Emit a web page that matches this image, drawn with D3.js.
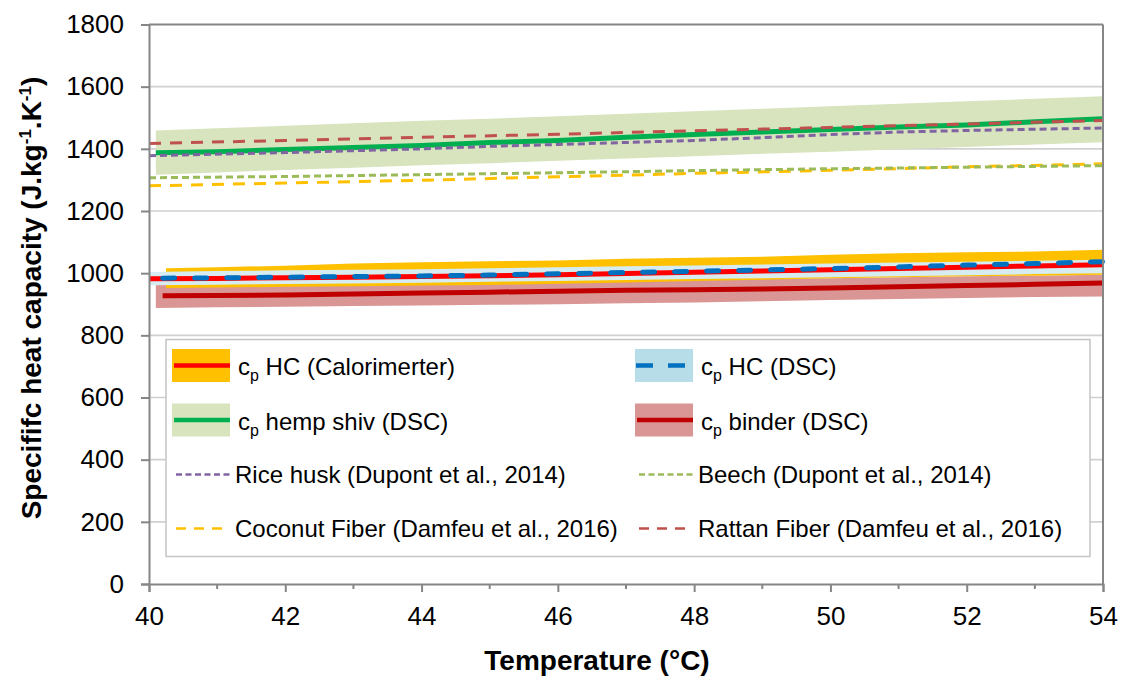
<!DOCTYPE html>
<html><head><meta charset="utf-8">
<script src="https://cdn.jsdelivr.net/npm/d3@7"></script>
<style>body{margin:0;background:#fff}svg{display:block;font-family:"Liberation Sans",Arial,sans-serif}</style>
</head><body><svg id="c" width="1125" height="683"></svg>
<script>
// ---- data ----
const xTicks = [40, 42, 44, 46, 48, 50, 52, 54];
const yTicks = [0, 200, 400, 600, 800, 1000, 1200, 1400, 1600, 1800];

const tempHemp = [40.1, 41, 42, 43, 44, 45, 46, 47, 48, 49, 50, 51, 52, 53, 54];
const hempShiv = [1387, 1391, 1398, 1404, 1411, 1420, 1427, 1437, 1446, 1454, 1462, 1470, 1477, 1487, 1497];
const hempUpper = [1459, 1466, 1474, 1482, 1490, 1497, 1505, 1513, 1521, 1529, 1537, 1545, 1553, 1561, 1569];
const hempLower = [1317, 1324, 1332, 1339, 1347, 1354, 1362, 1369, 1376, 1384, 1391, 1399, 1406, 1414, 1421];

const tempRef = [40, 42, 44, 46, 48, 50, 52, 54];
const rattan = [1417, 1427, 1437, 1447, 1458, 1469, 1480, 1491];
const beech = [1307, 1311, 1317, 1323, 1330, 1336, 1341, 1346];
const coconut = [1281, 1290, 1299, 1310, 1321, 1331, 1342, 1352];
const tempRice = [40, 42, 44, 45, 46, 48, 49, 50, 51, 52, 54];
const riceHusk = [1378, 1388, 1400, 1408, 1414, 1427, 1436, 1446, 1454, 1459, 1467];

const tempHC = [40, 41, 42, 43, 44, 45, 46, 47, 48, 49, 50, 51, 52, 53, 54];
const hcCalo = [982, 983, 985, 987, 989, 992, 995, 999, 1003, 1007, 1011, 1015, 1019, 1023, 1027];
const hcDscUpper = [1004, 1007, 1009, 1011, 1013, 1016, 1019, 1022, 1025, 1028, 1031, 1034, 1037, 1040, 1043];
const hcDscLower = [961, 963, 965, 967, 969, 972, 975, 978, 981, 984, 987, 990, 993, 997, 1000];
const tempDsc = [40.2, 41, 42, 43, 44, 45, 46, 47, 48, 49, 50, 51, 52, 53, 54];
const hcDsc = [984, 985, 987, 989, 991, 994, 998, 1002, 1006, 1010, 1015, 1020, 1026, 1031, 1037];

const tempCalo = [40.25, 41, 42, 43, 44, 45, 46, 47, 48, 49, 50, 51, 52, 53, 54];
const caloUpper = [1016, 1019, 1024, 1031, 1035, 1038, 1041, 1046, 1050, 1053, 1059, 1064, 1067, 1070, 1075];
const caloLower = [952, 954, 956, 958, 960, 962, 966, 970, 975, 979, 984, 987, 990, 992, 995];

const tempBinder = [40.1, 41, 42, 43, 44, 45, 46, 47, 48, 49, 50, 51, 52, 53, 54];
const binderUpper = [963, 965, 967, 969, 971, 973, 975, 977, 979, 982, 984, 987, 990, 992, 995];
const binderLower = [888, 890, 892, 894, 896, 898, 900, 903, 906, 910, 914, 917, 920, 923, 925];
const tempBinderLine = [40.2, 41, 42, 43, 44, 45, 46, 47, 48, 49, 50, 51, 52, 53, 54];
const binder = [927, 928, 930, 933, 936, 939, 942, 945, 947, 949, 952, 956, 960, 964, 968];

// ---- chart ----
const svg = d3.select("#c");
const L = 149, R = 1103, T = 24.5, B = 584;
const x = d3.scaleLinear().domain([40, 54]).range([L, R]);
const y = d3.scaleLinear().domain([0, 1800]).range([B, T]);
const axisCol = "#868686";
const FONT = "Liberation Sans, Arial, sans-serif";

// gridlines
svg.append("g").selectAll("line").data(yTicks.filter(v => v > 0 && v < 1800)).join("line")
  .attr("x1", L).attr("x2", R).attr("y1", d => y(d)).attr("y2", d => y(d))
  .attr("stroke", "#d0d0d0").attr("stroke-width", 1.6);

const zip = (t, v) => t.map((tt, i) => [tt, v[i]]);
const band = (t, lo, hi) => t.map((tt, i) => [tt, lo[i], hi[i]]);
const area = d3.area().x(d => x(d[0])).y0(d => y(d[1])).y1(d => y(d[2]));
const line = d3.line().x(d => x(d[0])).y(d => y(d[1]));

const plot = svg.append("g");
plot.append("path").attr("d", area(band(tempHemp, hempLower, hempUpper))).attr("fill", "#d7e4bd");
plot.append("path").attr("d", area(band(tempBinder, binderLower, binderUpper))).attr("fill", "#d99694");
plot.append("path").attr("d", area(band(tempCalo, caloLower, caloUpper))).attr("fill", "#ffc000");
plot.append("path").attr("d", area(band(tempHC, hcDscLower, hcDscUpper))).attr("fill", "#d6ecf1");

function drawLine(t, v, col, w, dash, cap) {
  plot.append("path").attr("d", line(zip(t, v))).attr("fill", "none")
    .attr("stroke", col).attr("stroke-width", w)
    .attr("stroke-dasharray", dash || null).attr("stroke-linecap", cap || "butt")
    .attr("stroke-linejoin", "round");
}
drawLine(tempRef, coconut, "#ffc000", 3, "12,9");
drawLine(tempRef, beech, "#9bbb59", 3, "7,4");
drawLine(tempHemp, hempShiv, "#00b050", 5);
drawLine(tempRef, rattan, "#c0504d", 3, "12,9");
drawLine(tempRice, riceHusk, "#8064a2", 3, "7,4");
drawLine(tempBinderLine, binder, "#c00000", 5);
drawLine(tempHC, hcCalo, "#ff0000", 5);
drawLine(tempDsc, hcDsc, "#0070c0", 5, "12,20", "round");

// frame: top & right border
svg.append("line").attr("x1", L).attr("x2", R).attr("y1", T).attr("y2", T).attr("stroke", axisCol).attr("stroke-width", 2);
svg.append("line").attr("x1", R).attr("x2", R).attr("y1", T).attr("y2", B).attr("stroke", axisCol).attr("stroke-width", 2);

// y axis
const yAxis = svg.append("g").attr("transform", `translate(${L},0)`)
  .call(d3.axisLeft(y).tickValues(yTicks).tickSize(8).tickPadding(17).tickFormat(d3.format("d")));
yAxis.select(".domain").attr("stroke", axisCol).attr("stroke-width", 2);
yAxis.selectAll(".tick line").attr("stroke", axisCol).attr("stroke-width", 2);
yAxis.selectAll("text").attr("font-size", 26).attr("fill", "#000").attr("font-family", FONT);

// x axis
const xAxis = svg.append("g").attr("transform", `translate(0,${B})`)
  .call(d3.axisBottom(x).tickValues(xTicks).tickSize(8).tickPadding(15).tickFormat(d3.format("d")));
xAxis.select(".domain").attr("stroke", axisCol).attr("stroke-width", 2);
xAxis.selectAll(".tick line").attr("stroke", axisCol).attr("stroke-width", 2);
xAxis.selectAll("text").attr("font-size", 26).attr("fill", "#000").attr("font-family", FONT);
svg.append("g").selectAll("line").data(d3.range(41, 54, 2)).join("line")
  .attr("x1", d => x(d)).attr("x2", d => x(d)).attr("y1", B).attr("y2", B + 5)
  .attr("stroke", axisCol).attr("stroke-width", 2);

// axis titles
svg.append("text").attr("x", 597).attr("y", 670).attr("text-anchor", "middle")
  .attr("font-size", 28).attr("font-weight", "bold").text("Temperature (°C)");
const yt = svg.append("text").attr("transform", "translate(41,298) rotate(-90)").attr("text-anchor", "middle")
  .attr("font-size", 28).attr("font-weight", "bold");
yt.append("tspan").text("Specififc heat capacity (J.kg");
yt.append("tspan").attr("font-size", 17).attr("dy", -10).text("-1");
yt.append("tspan").attr("dy", 10).text(".K");
yt.append("tspan").attr("font-size", 17).attr("dy", -10).text("-1");
yt.append("tspan").attr("dy", 10).text(")");

// legend
const lg = svg.append("g");
lg.append("rect").attr("x", 166).attr("y", 339.5).attr("width", 924).attr("height", 217)
  .attr("fill", "#fff").attr("stroke", "#c4c4c4").attr("stroke-width", 1.5);

const legendItems = [
  {col: 0, row: 0, kind: "band", fill: "#ffc000", stroke: "#ff0000", dash: null, label: "HC (Calorimerter)"},
  {col: 1, row: 0, kind: "band", fill: "#b7dee8", stroke: "#0070c0", dash: "17,15", label: "HC (DSC)"},
  {col: 0, row: 1, kind: "band", fill: "#d7e4bd", stroke: "#00b050", dash: null, label: "hemp shiv (DSC)"},
  {col: 1, row: 1, kind: "band", fill: "#d99694", stroke: "#c00000", dash: null, label: "binder (DSC)"},
  {col: 0, row: 2, kind: "line", stroke: "#8064a2", dash: "6,3.5", label: "Rice husk (Dupont et al., 2014)"},
  {col: 1, row: 2, kind: "line", stroke: "#9bbb59", dash: "6,3.5", label: "Beech (Dupont et al., 2014)"},
  {col: 0, row: 3, kind: "line", stroke: "#ffc000", dash: "10,8", label: "Coconut Fiber (Damfeu et al., 2016)"},
  {col: 1, row: 3, kind: "line", stroke: "#c0504d", dash: "10,8", label: "Rattan Fiber (Damfeu et al., 2016)"}
];
const colX = [172, 635];
const rowY = [365.5, 420, 474.5, 528.5];
legendItems.forEach(it => {
  const sx = colX[it.col], cy = rowY[it.row];
  if (it.kind === "band") {
    lg.append("rect").attr("x", sx).attr("y", cy - 16.5).attr("width", 58).attr("height", 33).attr("fill", it.fill);
    lg.append("line").attr("x1", sx + (it.dash ? 1 : 2)).attr("x2", sx + 58).attr("y1", cy).attr("y2", cy)
      .attr("stroke", it.stroke).attr("stroke-width", 4.5).attr("stroke-dasharray", it.dash);
    const t = lg.append("text").attr("x", sx + 66).attr("y", cy + 9.5).attr("font-size", 24);
    t.append("tspan").text("c");
    t.append("tspan").attr("font-size", 16).attr("dy", 6).text("p");
    t.append("tspan").attr("dy", -6).text(" " + it.label);
  } else {
    lg.append("line").attr("x1", sx + 4).attr("x2", sx + 58).attr("y1", cy).attr("y2", cy)
      .attr("stroke", it.stroke).attr("stroke-width", 2.5).attr("stroke-dasharray", it.dash);
    lg.append("text").attr("x", sx + 63).attr("y", cy + 8.5).attr("font-size", 24).text(it.label);
  }
});
</script></body></html>
